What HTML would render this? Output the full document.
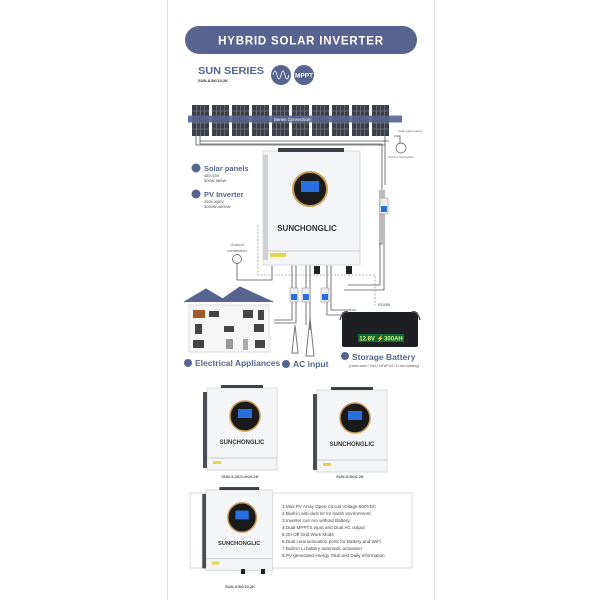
<!DOCTYPE html>
<html><head><meta charset="utf-8"><style>
html,body{margin:0;padding:0;background:#fff;width:600px;height:600px;overflow:hidden}
svg{display:block;font-family:"Liberation Sans",sans-serif}
</style></head><body>
<svg width="600" height="600" viewBox="0 0 600 600">
<defs>
<g id="panel"><rect width="17" height="31" fill="#3a3f48"/>
<path d="M0 6H17M0 12H17M0 18H17M0 24H17M4.25 0V31M8.5 0V31M12.75 0V31" stroke="#8a9099" stroke-width="0.5"/></g>
<g id="inv">
<rect x="0" y="0" width="70" height="82" fill="#f4f5f6" stroke="#d8dadd"/>
<rect x="-4" y="4" width="4" height="76" fill="#4a4d52"/>
<rect x="14" y="-3" width="42" height="3" fill="#3d4045"/>
<circle cx="38" cy="28" r="15" fill="#1a1a1a" stroke="#c89a55" stroke-width="1.5"/>
<rect x="31" y="21" width="14" height="9" fill="#2a6fe0"/>
<text x="35" y="56" font-size="6" font-weight="bold" text-anchor="middle" fill="#333">SUNCHONGLIC</text>
<line x1="0" y1="70" x2="70" y2="70" stroke="#ccc"/>
<rect x="6" y="73" width="8" height="3" fill="#e8d44a"/>
</g>
</defs>
<line x1="167.5" y1="0" x2="167.5" y2="600" stroke="#e2e2e2"/>
<line x1="434.5" y1="0" x2="434.5" y2="600" stroke="#e2e2e2"/>
<rect x="185" y="26" width="232" height="28" rx="14" fill="#56648f"/>
<text x="301" y="44.5" font-size="11.5" font-weight="bold" fill="#fff" text-anchor="middle" letter-spacing="0.8">HYBRID SOLAR INVERTER</text>
<text x="198" y="74" font-size="10.5" font-weight="bold" fill="#56648f" textLength="66" lengthAdjust="spacingAndGlyphs">SUN SERIES</text>
<text x="198" y="82" font-size="4" font-weight="bold" fill="#333">SUN-8.5K/10.2K</text>
<circle cx="281" cy="75" r="10" fill="#56648f"/>
<path d="M273 75q2-8 4 0t4 0 4 0 4 0" stroke="#fff" fill="none" stroke-width="0.8"/>
<circle cx="304" cy="75" r="10" fill="#56648f"/>
<text x="304" y="77.5" font-size="6.5" font-weight="bold" fill="#fff" text-anchor="middle">MPPT</text>
<g>
<use href="#panel" x="192" y="105"/><use href="#panel" x="212" y="105"/><use href="#panel" x="232" y="105"/><use href="#panel" x="252" y="105"/><use href="#panel" x="272" y="105"/><use href="#panel" x="292" y="105"/><use href="#panel" x="312" y="105"/><use href="#panel" x="332" y="105"/><use href="#panel" x="352" y="105"/><use href="#panel" x="372" y="105"/>
</g>
<rect x="188" y="115.5" width="214" height="7" fill="#56648f" opacity="0.9"/>
<text x="292" y="121" font-size="4.5" fill="#fff" text-anchor="middle">Series Connection</text>
<g stroke="#555" fill="none" stroke-width="0.8">
<path d="M200 136v5h189M385 136v9M196 136v9"/>
<path d="M200 140v4h182v100h-3M196 145h189v40"/>
<path d="M394 136h6v9M400 145v5"/>
<path d="M380 190v95h-32M384 190v100h-40"/>
<path d="M237 255v25h35v-15"/>
<path d="M292 265v55h-18M296 265v58h-22"/>
<path d="M306 265v60M310 265v65"/>
<path d="M327 265v50h15M331 265v45h25"/>
</g>
<path d="M258 225v50h117v30" stroke="#999" stroke-dasharray="2 1.5" fill="none" stroke-width="0.8"/>
<circle cx="401" cy="148" r="5" fill="#fff" stroke="#555" stroke-width="0.7"/>
<text x="401" y="158" font-size="3" fill="#666" text-anchor="middle">Ground Connection</text>
<text x="410" y="132" font-size="3" fill="#666" text-anchor="middle">Solar panel stand</text>
<rect x="380" y="198" width="8" height="16" fill="#eee" stroke="#888" stroke-width="0.5"/><rect x="381" y="206" width="6" height="6" fill="#2a6fe0"/>
<rect x="263" y="151" width="97" height="114" fill="#f4f5f6" stroke="#d8dadd"/>
<rect x="263" y="155" width="5" height="105" fill="#d0d2d6"/>
<rect x="278" y="148" width="66" height="4" fill="#3d4045"/>
<circle cx="310" cy="189" r="17" fill="#1a1a1a" stroke="#c89a55" stroke-width="2"/>
<rect x="301" y="181" width="18" height="11" fill="#2a6fe0"/>
<text x="307" y="231" font-size="8" font-weight="bold" text-anchor="middle" fill="#333">SUNCHONGLIC</text>
<line x1="263" y1="251" x2="360" y2="251" stroke="#ccc"/>
<rect x="270" y="253" width="16" height="4" fill="#e8d44a"/>
<circle cx="196" cy="168" r="4.5" fill="#56648f"/><text x="204" y="171" font-size="7.5" font-weight="bold" fill="#56648f">Solar panels</text>
<text x="204" y="177" font-size="4" fill="#444">48V-53V</text><text x="204" y="182" font-size="4" fill="#444">500W-580W</text>
<circle cx="196" cy="194" r="4.5" fill="#56648f"/><text x="204" y="197" font-size="7.5" font-weight="bold" fill="#56648f">PV Inverter</text>
<text x="204" y="203" font-size="4" fill="#444">260V-450V</text><text x="204" y="208" font-size="4" fill="#444">3000W-4500W</text>
<text x="237" y="246" font-size="4" fill="#555" text-anchor="middle">Ground</text><text x="237" y="252" font-size="4" fill="#555" text-anchor="middle">connection</text>
<circle cx="237" cy="259" r="4.5" fill="#fff" stroke="#555" stroke-width="0.7"/>
<g fill="#eee" stroke="#888" stroke-width="0.5"><rect x="290" y="288" width="8" height="14"/><rect x="302" y="288" width="8" height="14"/><rect x="321" y="288" width="8" height="14"/></g>
<g fill="#2a6fe0"><rect x="291" y="294" width="6" height="6"/><rect x="303" y="294" width="6" height="6"/><rect x="322" y="294" width="6" height="6"/></g>
<rect x="314" y="266" width="6" height="8" fill="#222"/><rect x="346" y="266" width="6" height="8" fill="#222"/>
<path d="M184 302l22-13 22 13M218 302l22-15 33 15" fill="#56648f" stroke="#56648f"/>
<rect x="189" y="305" width="80" height="47" fill="#f6f6f6" stroke="#ddd"/>
<g fill="#444"><rect x="193" y="310" width="12" height="8" fill="#a05a2a"/><rect x="209" y="311" width="10" height="6"/><rect x="243" y="310" width="10" height="8"/><rect x="258" y="310" width="6" height="10"/>
<rect x="195" y="324" width="7" height="10"/><rect x="224" y="326" width="10" height="6"/><rect x="254" y="324" width="10" height="8"/>
<rect x="193" y="340" width="11" height="8"/><rect x="226" y="339" width="7" height="10" fill="#999"/><rect x="243" y="339" width="5" height="11" fill="#aaa"/><rect x="255" y="340" width="10" height="8"/></g>
<g stroke="#777" fill="none" stroke-width="1"><path d="M295 325l-3 28h6zM310 318l-4 38h8z"/></g>
<rect x="342" y="312" width="76" height="35" rx="2" fill="#1e1f22"/>
<path d="M340 320q3-10 8-8M420 320q-3-10-8-8" stroke="#555" fill="none" stroke-width="1.5"/>
<rect x="358" y="334" width="46" height="8" fill="#0f6a3a"/>
<text x="381" y="340.5" font-size="6" font-weight="bold" fill="#e6f06a" text-anchor="middle">12.8V ⚡300AH</text>
<text x="378" y="306" font-size="4" fill="#555">RS485</text>
<circle cx="188" cy="363" r="4" fill="#56648f"/><text x="195" y="366" font-size="8.5" font-weight="bold" fill="#56648f">Electrical Appliances</text>
<circle cx="286" cy="364" r="4" fill="#56648f"/><text x="293" y="367" font-size="8.5" font-weight="bold" fill="#56648f">AC input</text>
<circle cx="345" cy="356" r="4" fill="#56648f"/><text x="352" y="360" font-size="8.5" font-weight="bold" fill="#56648f">Storage Battery</text>
<text x="384" y="367" font-size="3.8" fill="#555" text-anchor="middle">(Lead acid / Gel / LiFePo4 / Li-ion battery)</text>
<rect x="190" y="493" width="222" height="75" fill="#fff" stroke="#d8d8d8"/>
<g transform="translate(207,388)"><use href="#inv"/></g>
<g transform="translate(317,390)"><use href="#inv"/></g>
<g transform="translate(206,490) scale(0.95,0.98)"><use href="#inv"/></g>
<rect x="241" y="569" width="4" height="5" fill="#222"/><rect x="261" y="569" width="4" height="5" fill="#222"/>
<text x="240" y="478" font-size="4" font-weight="bold" fill="#555" text-anchor="middle">SUN-3.2K/3.2K/6.2K</text>
<text x="350" y="478" font-size="4" font-weight="bold" fill="#555" text-anchor="middle">SUN-5.5K/6.2K</text>
<text x="240" y="588" font-size="4" font-weight="bold" fill="#555" text-anchor="middle">SUN-8.5K/10.2K</text>
<g font-size="4.6" fill="#444">
<text x="282" y="508">1.Max.PV Array Open-Circuit Voltage:500VDC</text>
<text x="282" y="515">2.Built-in anti-dust kit for harsh environment</text>
<text x="282" y="522">3.Inverter can run without Battery</text>
<text x="282" y="529">4.Dual MPPTS input and Dual AC output</text>
<text x="282" y="536">5.On Off Grid Work Mode</text>
<text x="282" y="543">6.Dual communication ports for Battery and WiFi</text>
<text x="282" y="550">7.Built-in Li battery automatic activation</text>
<text x="282" y="557">8.PV generated energy Total and Daily information</text>
</g>
</svg>
</body></html>
